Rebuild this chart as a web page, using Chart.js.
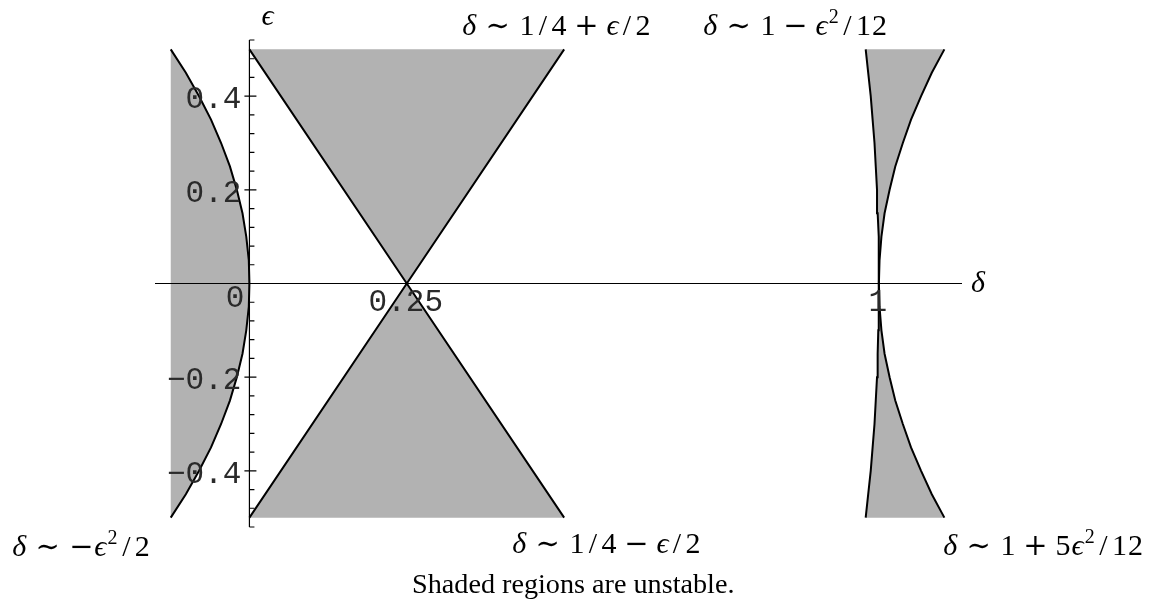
<!DOCTYPE html>
<html>
<head>
<meta charset="utf-8">
<title>Mathieu stability chart</title>
<script src="https://cdn.jsdelivr.net/npm/chart.js@4/dist/chart.umd.min.js"></script>
<style>
    body { margin: 0; background: #fff; }
    #wrap { width: 1151px; height: 604px; }
</style>
</head>
<body>
<div id="wrap"><canvas id="stabilityChart" width="1151" height="604"></canvas></div>
<script>
// epsilon samples shared by the curved boundaries
const epsGrid = [-0.5, -0.45, -0.4, -0.35, -0.3, -0.25, -0.2, -0.15, -0.1, -0.05, 0,
                 0.05, 0.1, 0.15, 0.2, 0.25, 0.3, 0.35, 0.4, 0.45, 0.5];
// delta ~ -eps^2/2
const leftBoundary = [-0.125, -0.101, -0.08, -0.061, -0.045, -0.031, -0.02, -0.011, -0.005, -0.001, 0,
                      -0.001, -0.005, -0.011, -0.02, -0.031, -0.045, -0.061, -0.08, -0.101, -0.125];
// delta ~ 1 - eps^2/12
const rightInner = [0.979, 0.983, 0.987, 0.990, 0.993, 0.995, 0.997, 0.998, 0.999, 1.0, 1.0,
                    1.0, 0.999, 0.998, 0.997, 0.995, 0.993, 0.990, 0.987, 0.983, 0.979];
// delta ~ 1 + 5 eps^2/12
const rightOuter = [1.104, 1.084, 1.067, 1.051, 1.038, 1.026, 1.017, 1.009, 1.004, 1.001, 1.0,
                    1.001, 1.004, 1.009, 1.017, 1.026, 1.038, 1.051, 1.067, 1.084, 1.104];
// delta ~ 1/4 +- eps/2 tongue
const quarterDelta = [0, 0.25, 0.5];
const quarterEpsUpper = [0.5, 0, 0.5];
const quarterEpsLower = [-0.5, 0, -0.5];

const yTickValues = [-0.4, -0.2, 0, 0.2, 0.4];
const yTickLabels = ['\u22120.4', '\u22120.2', '0', '0.2', '0.4'];
const xTickValues = [0.25, 1];
const xTickLabels = ['0.25', '1'];

const shade = 'rgb(178,178,178)';

function pts(xs, ys) {
    return xs.map((v, i) => ({ x: v, y: ys[i] }));
}

const leftPts = pts(leftBoundary, epsGrid);
const innerPts = pts(rightInner, epsGrid);
const outerPts = pts(rightOuter, epsGrid);
const rightShadePts = innerPts.concat(outerPts.slice().reverse());

// little TeX-like renderer for the curve labels
const mathWidths = { '\u03b4': 0.444, '\u03f5': 0.406, '\u223c': 0.778, '+': 0.778, '\u2212': 0.778, '/': 0.5 };
const serif = '"Liberation Serif", "DejaVu Serif"';

function drawMath(ctx, str, left, base, em, px) {
    const toks = [];
    let prev = '';
    for (let i = 0; i < str.length; i++) {
        const ch = str[i];
        if (ch === '^') {
            toks.push({ t: str[i + 1], w: 0.36, sup: true });
            i++;
            prev = 'sup';
            continue;
        }
        if (ch === '\u223c') {
            toks.push({ gap: 0.278 }, { t: ch, w: 0.778, op: true }, { gap: 0.278 });
        } else if ((ch === '+' || ch === '\u2212') && prev !== '\u223c') {
            toks.push({ gap: 0.222 }, { t: ch, w: 0.778, op: true }, { gap: 0.222 });
        } else if (ch === '+' || ch === '\u2212') {
            toks.push({ t: ch, w: 0.778, op: true });
        } else {
            toks.push({ t: ch, w: mathWidths[ch] || 0.5, it: ch === '\u03b4' || ch === '\u03f5' });
        }
        prev = ch;
    }
    let x = left;
    ctx.textAlign = 'center';
    ctx.textBaseline = 'alphabetic';
    toks.forEach(tk => {
        if (tk.gap) { x += tk.gap * em; return; }
        const w = tk.w * em;
        if (tk.sup) {
            ctx.font = Math.round(px * 0.68) + 'px ' + serif;
            ctx.fillText(tk.t, x + w / 2, base - 0.38 * em);
        } else if (tk.op) {
            ctx.font = Math.round(px * 0.95) + 'px "DejaVu Serif"';
            ctx.fillText(tk.t, x + w / 2, base);
        } else {
            ctx.font = (tk.it ? 'italic ' : '') + px + 'px ' + serif;
            ctx.fillText(tk.t, x + w / 2, base);
        }
        x += w;
    });
}

const axesPlugin = {
    id: 'axes',
    afterDatasetsDraw(chart) {
        const { ctx, chartArea, scales: { x, y } } = chart;
        const x0 = x.getPixelForValue(0);
        const y0 = y.getPixelForValue(0);
        ctx.save();
        ctx.strokeStyle = '#000';
        ctx.lineWidth = 1.2;
        ctx.beginPath();
        ctx.moveTo(chartArea.left, y0);
        ctx.lineTo(chartArea.right, y0);
        ctx.moveTo(x0, chartArea.top);
        ctx.lineTo(x0, chartArea.bottom);
        // minor ticks every 0.04
        for (let k = -13; k <= 13; k++) {
            const py = y.getPixelForValue(k * 0.04);
            ctx.moveTo(x0, py);
            ctx.lineTo(x0 + 5, py);
        }
        yTickValues.forEach(v => {
            const py = y.getPixelForValue(v);
            ctx.moveTo(x0 - 5, py);
            ctx.lineTo(x0 + 7, py);
        });
        ctx.stroke();

        ctx.fillStyle = '#2a2a2a';
        ctx.font = '31px "Liberation Mono", "DejaVu Sans Mono"';
        ctx.textAlign = 'right';
        ctx.textBaseline = 'alphabetic';
        yTickValues.forEach((v, i) => {
            const py = y.getPixelForValue(v);
            if (v === 0) ctx.fillText(yTickLabels[i], x0 - 5, py + 23);
            else ctx.fillText(yTickLabels[i], x0 - 8, py + 12);
        });
        ctx.textAlign = 'center';
        xTickValues.forEach((v, i) => {
            ctx.fillText(xTickLabels[i], x.getPixelForValue(v) - 1, y0 + 27);
        });

        // axis names
        ctx.fillStyle = '#000';
        ctx.textAlign = 'left';
        ctx.font = 'italic 30px ' + serif;
        ctx.fillText('\u03f5', x0 + 12, 25);
        ctx.fillText('\u03b4', chartArea.right + 9, y0 + 8);

        // boundary formulas
        drawMath(ctx, '\u03b4\u223c1/4+\u03f5/2', 462, 35, 32, 30);
        drawMath(ctx, '\u03b4\u223c1\u2212\u03f5^2/12', 703, 35, 32, 30);
        drawMath(ctx, '\u03b4\u223c\u2212\u03f5^2/2', 12, 556, 32, 30);
        drawMath(ctx, '\u03b4\u223c1/4\u2212\u03f5/2', 512, 553, 32, 30);
        drawMath(ctx, '\u03b4\u223c1+5\u03f5^2/12', 943, 555, 32, 30);

        // caption sized to the original width
        const caption = 'Shaded regions are unstable.';
        ctx.font = '30px ' + serif;
        const size = 30 * 323 / ctx.measureText(caption).width;
        ctx.font = size.toFixed(1) + 'px ' + serif;
        ctx.textAlign = 'left';
        ctx.fillText(caption, 412, 593);
        ctx.restore();
    }
};

const ctx = document.getElementById('stabilityChart').getContext('2d');
window.stabilityChart = new Chart(ctx, {
    type: 'scatter',
    data: {
        datasets: [
            {
                label: 'delta ~ 1 - eps^2/12',
                data: innerPts,
                showLine: true,
                borderColor: '#000',
                borderWidth: 2,
                pointRadius: 0,
                fill: false
            },
            {
                label: 'delta ~ 1 + 5 eps^2/12',
                data: outerPts,
                showLine: true,
                borderColor: '#000',
                borderWidth: 2,
                pointRadius: 0,
                fill: false
            },
            {
                label: 'right tongue',
                data: rightShadePts,
                showLine: true,
                borderWidth: 0,
                borderColor: 'rgba(0,0,0,0)',
                backgroundColor: shade,
                pointRadius: 0,
                fill: 'shape'
            },
            {
                label: 'delta ~ -eps^2/2',
                data: leftPts,
                showLine: true,
                borderColor: '#000',
                borderWidth: 2,
                backgroundColor: shade,
                pointRadius: 0,
                fill: 'shape'
            },
            {
                label: 'delta ~ 1/4 + eps/2',
                data: pts(quarterDelta, quarterEpsUpper),
                showLine: true,
                borderColor: '#000',
                borderWidth: 2,
                backgroundColor: shade,
                pointRadius: 0,
                fill: 'shape'
            },
            {
                label: 'delta ~ 1/4 - eps/2',
                data: pts(quarterDelta, quarterEpsLower),
                showLine: true,
                borderColor: '#000',
                borderWidth: 2,
                backgroundColor: shade,
                pointRadius: 0,
                fill: 'shape'
            }
        ]
    },
    options: {
        responsive: false,
        animation: false,
        layout: { padding: { left: 155, right: 189, top: 40, bottom: 77 } },
        scales: {
            x: { type: 'linear', min: -0.15, max: 1.132, display: false },
            y: { type: 'linear', min: -0.52, max: 0.52, display: false }
        },
        plugins: {
            legend: { display: false },
            tooltip: { enabled: false }
        }
    },
    plugins: [axesPlugin]
});
</script>
</body>
</html>
